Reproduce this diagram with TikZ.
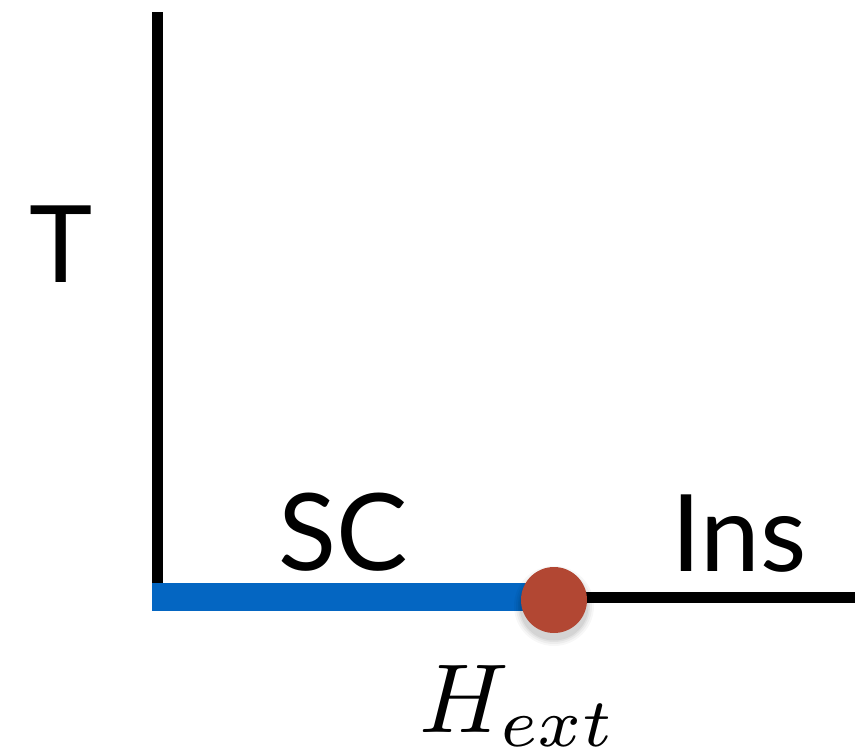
\documentclass[tikz,border=0pt]{standalone}
\usepackage{graphicx}
\usepackage{fontspec}
\setsansfont{Lato}
\definecolor{scblue}{HTML}{0466C2}
\definecolor{dotred}{HTML}{B24733}
\begin{document}
\begin{tikzpicture}[x=1pt,y=-1pt,
  lbl/.style={font=\sffamily\fontsize{107}{107}\selectfont, inner sep=0pt, anchor=base},
  axisline/.style={line width=11pt, black},
  scline/.style={line width=28pt, scblue},
  pt/.style={circle, fill=dotred, minimum size=66pt, inner sep=0pt}]
  \useasboundingbox (0,0) rectangle (855,748);
  % axes and field line
  \coordinate (top) at (157.5,12);
  \coordinate (origin) at (157.5,583);
  \coordinate (left) at (152,597);
  \coordinate (right) at (855,597.5);
  \coordinate (hcpos) at (554,600);
  \draw[axisline] (top) -- (origin);
  \draw[axisline] (right -| hcpos) -- (right);
  \draw[scline] (left) -- (left -| hcpos);
  % soft shadow under the critical-field dot
  \foreach \r/\o in {40/0.03,38/0.04,36/0.05,34.5/0.06}
    \fill[black, opacity=\o] (554,606) circle[radius=\r pt];
  \node[pt] (hc) at (hcpos) {};
  % labels
  \node[lbl] (T) at (61,282) {T};
  \node[lbl] (SC) at (343,570) {SC};
  \node[lbl] (Ins) at (739,571) {Ins};
  \node[inner sep=0pt, anchor=base] (H) at (518,732) {\scalebox{9.8}{$H_{ext}$}};
\end{tikzpicture}
\end{document}
